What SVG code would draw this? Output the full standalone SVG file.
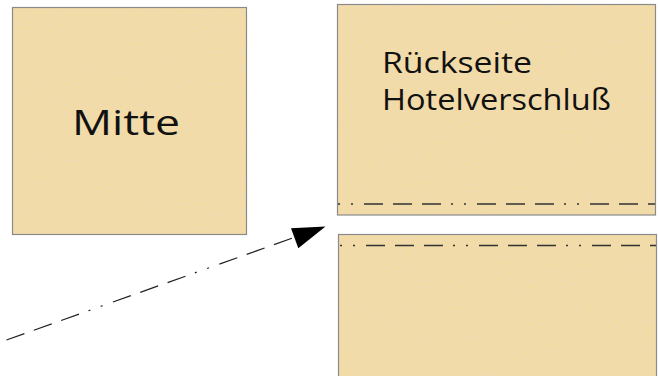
<svg xmlns="http://www.w3.org/2000/svg" width="658" height="376" viewBox="0 0 658 376">
  <style>
    .card { fill: #F2DBA6; }
    .edge { fill: none; stroke: #8A8A8A; stroke-width: 1.2; }
    .fold { fill: none; stroke: #333; stroke-width: 1.3; stroke-dasharray: 19 10 19 10 19 10 2 11 2 11; }
    .label { font-family: "Open Sans", "DejaVu Sans", sans-serif; fill: #111; }
  </style>
  <defs>
    <filter id="paper" x="0" y="0" width="100%" height="100%">
      <feTurbulence type="fractalNoise" baseFrequency="0.3" numOctaves="2" seed="7" result="n"/>
      <feColorMatrix in="n" type="matrix" values="0 0 0 0 0.86  0 0 0 0 0.70  0 0 0 0 0.46  0 0 0 2.2 -0.95" result="spots"/>
      <feComposite in="spots" in2="SourceGraphic" operator="in" result="s2"/>
      <feMerge><feMergeNode in="SourceGraphic"/><feMergeNode in="s2"/></feMerge>
    </filter>
  </defs>

  <g id="mitte">
    <rect class="card" x="12.5" y="7.5" width="234" height="227" filter="url(#paper)"/>
    <rect class="edge" x="12.5" y="7.5" width="234" height="227"/>
    <text class="label" x="72" y="135" font-size="34" textLength="108" lengthAdjust="spacingAndGlyphs">Mitte</text>
  </g>

  <g id="rueckseite">
    <rect class="card" x="337.5" y="4.5" width="318" height="210.5" filter="url(#paper)"/>
    <rect class="edge" x="337.5" y="4.5" width="318" height="210.5"/>
    <line class="fold" x1="338" y1="204" x2="655" y2="204" stroke-dashoffset="87"/>
    <text class="label" x="382" y="73" font-size="29" textLength="150" lengthAdjust="spacingAndGlyphs">Rückseite</text>
    <text class="label" x="382" y="110" font-size="29" textLength="229" lengthAdjust="spacingAndGlyphs">Hotelverschluß</text>
  </g>

  <g id="unterteil">
    <rect class="card" x="338.5" y="234.5" width="318" height="145" filter="url(#paper)"/>
    <rect class="edge" x="338.5" y="234.5" width="318" height="145"/>
    <line class="fold" x1="339" y1="245.5" x2="656" y2="245.5" stroke-dashoffset="86"/>
  </g>

  <g id="connectors">
    <line class="fold" x1="6.5" y1="340" x2="294" y2="237.5" style="stroke:#222;stroke-width:1.2"/>
    <polygon points="325.5,226.5 291,228.3 298.3,248.3" fill="#000"/>
  </g>
</svg>
